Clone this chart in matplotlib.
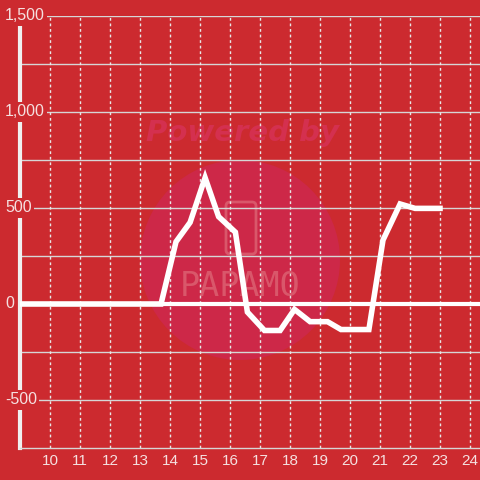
import matplotlib
matplotlib.use("Agg")
import matplotlib.pyplot as plt
from matplotlib.patches import Circle, FancyBboxPatch
from matplotlib.transforms import blended_transform_factory

# values
hours = [9, 13.7, 14.2, 14.67, 15.17, 15.62, 16.18, 16.58, 17.15, 17.67, 18.15,
         18.67, 19.25, 19.7, 20.63, 21.1, 21.67, 22.17, 23.0]
values = [0, 0, 324, 425, 658, 455, 374, -42, -138, -138, -28,
          -92, -92, -133, -133, 333, 521, 498, 498]
x_ticks = list(range(10, 25))
y_ticks = [-500, 0, 500, 1000, 1500]
y_labels = ["-500", "0", "500", "1,000", "1,500"]

bg_red = "#cc2a2f"
label_col = "#f5e0e0"
plt.rcParams["font.family"] = ["Liberation Sans", "DejaVu Sans"]

fig = plt.figure(figsize=(4.8, 4.8), dpi=100)
fig.patch.set_facecolor(bg_red)

# background layer in pixel coords for the watermark
bg = fig.add_axes([0, 0, 1, 1], zorder=0)
bg.set_xlim(0, 480)
bg.set_ylim(480, 0)
bg.axis("off")
bg.add_patch(Circle((240, 260), 100, facecolor="#cd2848", edgecolor="none"))
bg.text(243, 133, "Powered by", ha="center", va="center", fontsize=21,
        fontweight="bold", style="italic", color="#d4304f", family="DejaVu Sans")
bg.add_patch(FancyBboxPatch((226, 202), 30, 52, boxstyle="round,pad=0,rounding_size=4",
                            facecolor="none", edgecolor="#d9576a", lw=2))
bg.text(240, 287, "PAPAMO", ha="center", va="center", fontsize=24,
        color="#d9576a", family="DejaVu Sans Mono")

ax = fig.add_axes([20 / 480, 32 / 480, 460 / 480, 432 / 480], zorder=1)
ax.patch.set_alpha(0)
ax.set_xlim(9, 9 + 460 / 30)
ax.set_ylim(-750, 1500)

# grid
for v in range(-750, 1501, 250):
    if v in (0, -750):
        continue
    ax.axhline(v, color="#d6d6d6", lw=1, zorder=1)
for t in x_ticks:
    ax.axvline(t, color="#e8e8e8", lw=1, ls=(0, (2, 2)), zorder=1)

ax.axhline(0, color="white", lw=3, zorder=2)
ax.plot([9, 9], [-750, 1460], color="#f0f0f0", lw=3, clip_on=False, zorder=2)

ax.plot(hours, values, color="white", lw=4, solid_joinstyle="miter", zorder=3)

for s in ax.spines.values():
    s.set_visible(False)
ax.spines["bottom"].set_visible(True)
ax.spines["bottom"].set_color("#d6d6d6")
ax.spines["bottom"].set_linewidth(1)

ax.set_xticks(x_ticks)
ax.set_xticklabels([str(t) for t in x_ticks])
ax.tick_params(axis="x", length=0, pad=4, labelsize=11, labelcolor=label_col)
ax.set_yticks([])

trans = blended_transform_factory(fig.transFigure, ax.transData)
for v, lab in zip(y_ticks, y_labels):
    ax.text(5 / 480, v, lab, transform=trans, ha="left", va="center",
            fontsize=11.5, color=label_col, zorder=4, clip_on=False,
            bbox=dict(boxstyle="square,pad=0.15", facecolor=bg_red, edgecolor="none"))

fig.savefig("out.png", dpi=100, facecolor=bg_red)
